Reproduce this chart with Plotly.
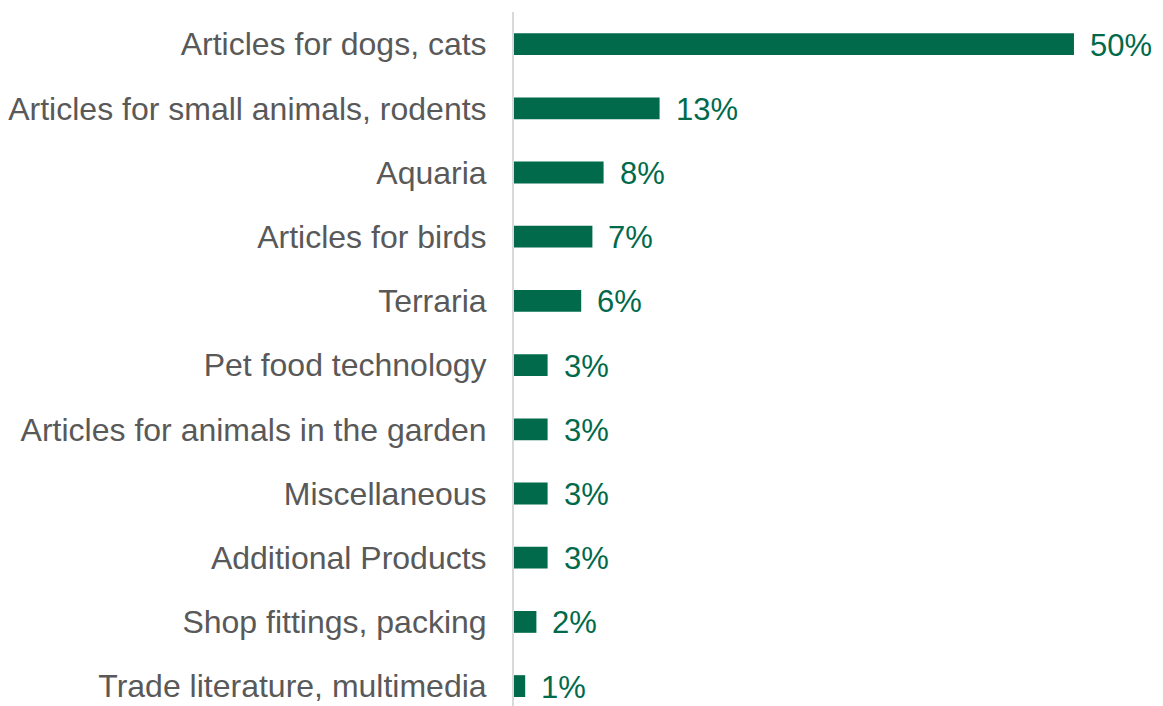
import plotly.graph_objects as go

categories = [
    "Articles for dogs, cats",
    "Articles for small animals, rodents",
    "Aquaria",
    "Articles for birds",
    "Terraria",
    "Pet food technology",
    "Articles for animals in the garden",
    "Miscellaneous",
    "Additional Products",
    "Shop fittings, packing",
    "Trade literature, multimedia",
]
values = [50, 13, 8, 7, 6, 3, 3, 3, 3, 2, 1]
labels = [f"{v}%" for v in values]

GREEN = "#006A4B"
GRAY = "#595959"
FONT = "Liberation Sans, Arial, sans-serif"

fig = go.Figure()
fig.add_trace(go.Bar(
    x=values,
    y=categories,
    orientation="h",
    marker=dict(color=GREEN, line=dict(width=0)),
    width=0.34,
    hoverinfo="skip",
))

for c, v, t in zip(categories, values, labels):
    fig.add_annotation(
        x=v, y=c, text=t, showarrow=False,
        xanchor="left", yanchor="middle", xshift=14, yshift=-1,
        font=dict(family=FONT, size=31, color=GREEN),
    )

fig.update_layout(
    width=1163, height=706,
    margin=dict(l=514, r=0, t=12, b=0),
    paper_bgcolor="white", plot_bgcolor="white",
    showlegend=False,
    font=dict(family=FONT),
    xaxis=dict(range=[0, 57.95], visible=False, showgrid=False, zeroline=False),
    yaxis=dict(
        type="category",
        range=[10.31, -0.5],
        showgrid=False, zeroline=False,
        showline=True, linecolor="#D9D9D9", linewidth=2,
        ticks="", ticklabelstandoff=19,
        tickfont=dict(family=FONT, size=32, color=GRAY),
    ),
)

fig.write_html("out.html")
